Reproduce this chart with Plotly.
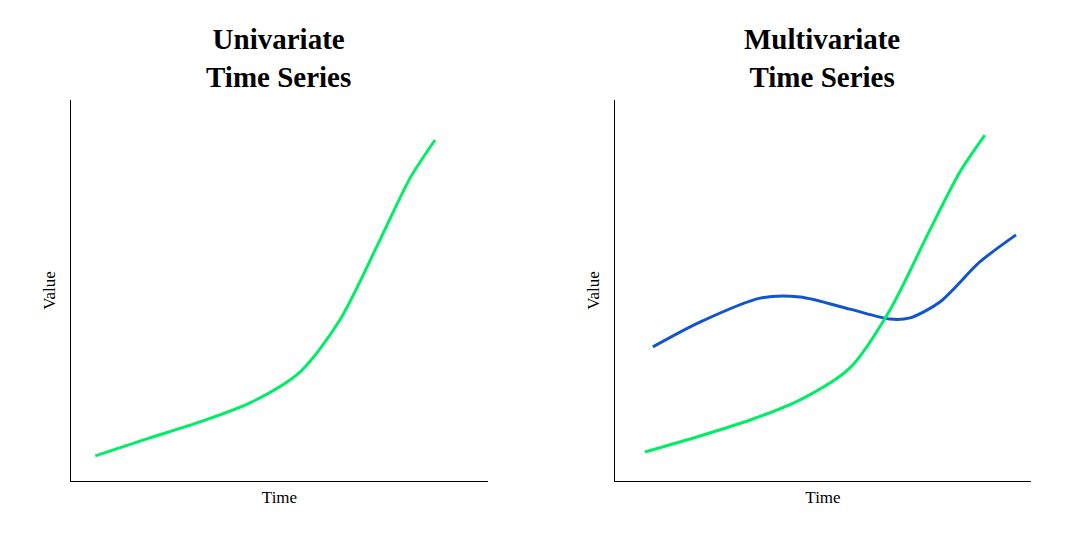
import plotly.graph_objects as go

uni_x = [0.58, 1.89, 3.09, 4.29, 5.49, 6.45, 7.41, 8.13, 8.73]
uni_y = [0.66, 1.13, 1.55, 2.05, 2.86, 4.23, 6.33, 7.95, 8.95]
multi_green_x = [0.72, 2.04, 3.25, 4.45, 5.65, 6.61, 7.57, 8.29, 8.89]
multi_green_y = [0.76, 1.18, 1.60, 2.13, 2.97, 4.49, 6.59, 8.11, 9.08]
multi_blue_x = [0.91, 2.04, 3.49, 4.45, 5.65, 6.61, 7.09, 7.81, 8.77, 9.64]
multi_blue_y = [3.52, 4.17, 4.80, 4.83, 4.51, 4.25, 4.28, 4.70, 5.75, 6.46]

GREEN = "#00EE66"
BLUE = "#1155CC"
FONT = "Liberation Serif"
DX = 8 / 1079
DY = 8 / 534

fig = go.Figure()
fig.add_trace(go.Scatter(x=uni_x, y=uni_y, mode="lines", line=dict(color=GREEN, width=3, shape="spline", smoothing=0.8), xaxis="x", yaxis="y"))
fig.add_trace(go.Scatter(x=multi_blue_x, y=multi_blue_y, mode="lines", line=dict(color=BLUE, width=3, shape="spline", smoothing=0.8), xaxis="x2", yaxis="y2"))
fig.add_trace(go.Scatter(x=multi_green_x, y=multi_green_y, mode="lines", line=dict(color=GREEN, width=3, shape="spline", smoothing=0.8), xaxis="x2", yaxis="y2"))

ax = dict(range=[0, 10], showgrid=False, zeroline=False, showticklabels=False, ticks="",
          showline=True, linecolor="black", linewidth=1, fixedrange=True,
          title_font=dict(family=FONT, size=17, color="black"))
fig.update_layout(
    width=1079, height=534, margin=dict(l=0, r=0, t=0, b=0),
    paper_bgcolor="white", plot_bgcolor="white", showlegend=False,
    font=dict(family=FONT, color="black"),
    xaxis=dict(ax, domain=[0.0658 - DX, 0.4523 - DX], anchor="y", title=dict(text="Time", standoff=10)),
    yaxis=dict(ax, domain=[0.0993 + DY, 0.8127 + DY], anchor="x", title=dict(text="Value", standoff=10)),
    xaxis2=dict(ax, domain=[0.570 - DX, 0.9555 - DX], anchor="y2", title=dict(text="Time", standoff=10)),
    yaxis2=dict(ax, domain=[0.0993 + DY, 0.8127 + DY], anchor="x2", title=dict(text="Value", standoff=10)),
    annotations=[
        dict(text="<b>Univariate<br>Time Series</b>", x=278/1079 - DX, y=1-64/534 + 1.7*DY, xref="paper", yref="paper",
             showarrow=False, font=dict(family=FONT, size=29, color="black"), xanchor="center", yanchor="middle"),
        dict(text="<b>Multivariate<br>Time Series</b>", x=822/1079 - DX, y=1-64/534 + 1.7*DY, xref="paper", yref="paper",
             showarrow=False, font=dict(family=FONT, size=29, color="black"), xanchor="center", yanchor="middle"),
    ],
)
fig.write_html("out.html")
